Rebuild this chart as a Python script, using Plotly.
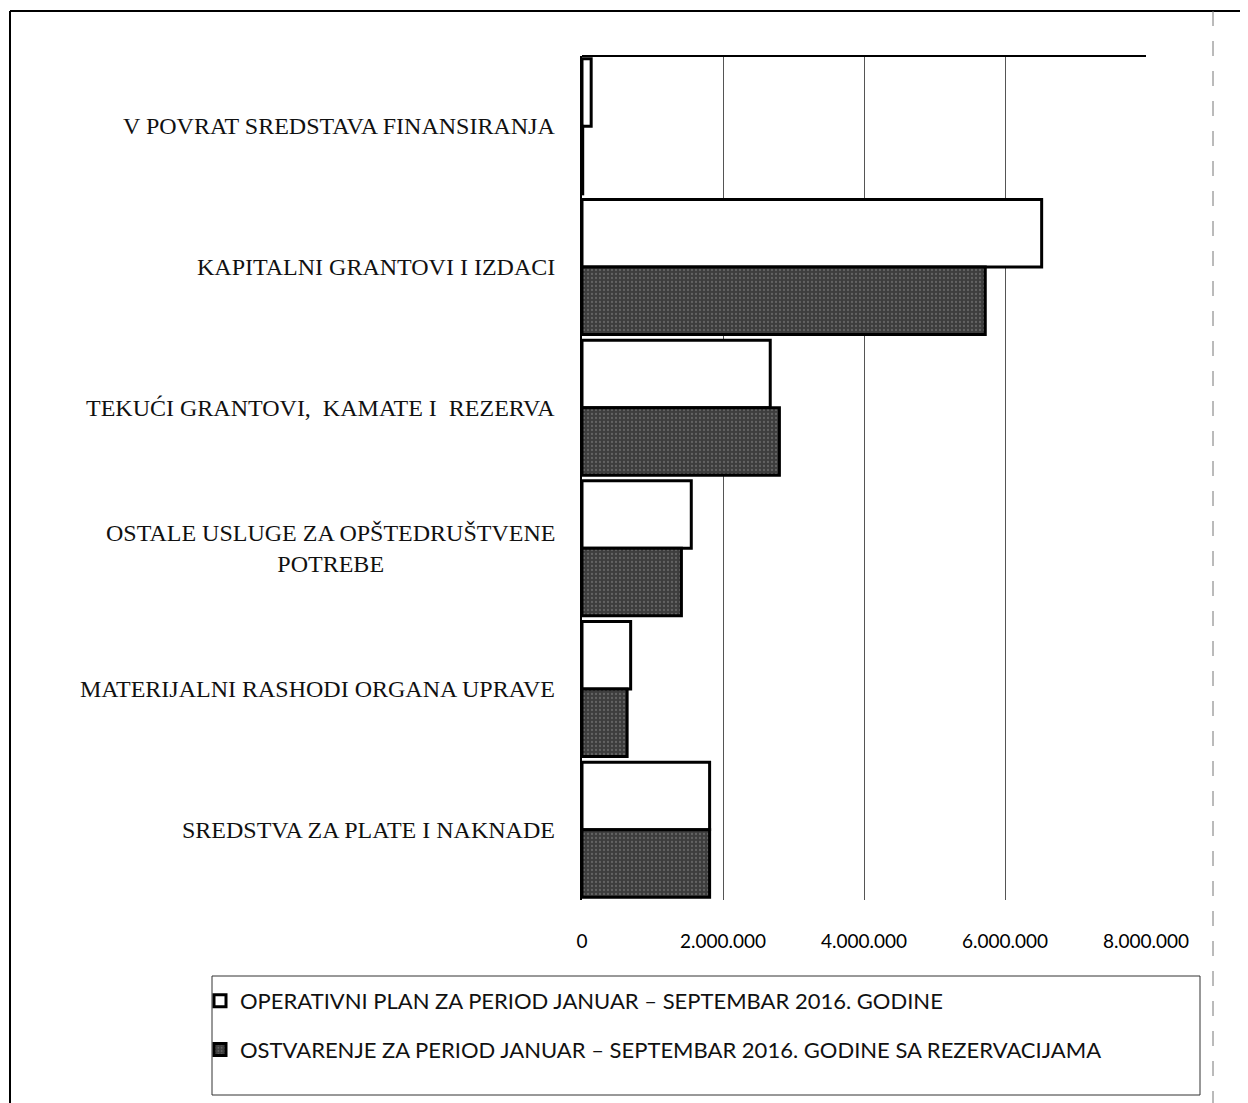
import plotly.graph_objects as go

categories = [
    "V POVRAT SREDSTAVA FINANSIRANJA",
    "KAPITALNI GRANTOVI I IZDACI",
    "TEKUĆI GRANTOVI,  KAMATE I  REZERVA",
    "OSTALE USLUGE ZA OPŠTEDRUŠTVENE<br>POTREBE",
    "MATERIJALNI RASHODI ORGANA UPRAVE",
    "SREDSTVA ZA PLATE I NAKNADE",
]
plan_values = [130000, 6520000, 2670000, 1550000, 690000, 1810000]
ostv_values = [10000, 5720000, 2800000, 1410000, 640000, 1810000]
series_names = [
    "OPERATIVNI PLAN ZA PERIOD JANUAR – SEPTEMBAR 2016. GODINE",
    "OSTVARENJE ZA PERIOD JANUAR – SEPTEMBAR 2016. GODINE SA REZERVACIJAMA",
]
tick_values = [0, 2000000, 4000000, 6000000, 8000000]
tick_labels = ["0", "2.000.000", "4.000.000", "6.000.000", "8.000.000"]

# page body has an 8px margin, so work in reference coords minus 8
OFF = 8
W, H = 1248 - OFF, 1103 - OFF
PL, PR, PT, PB = 582 - OFF, 1146 - OFF, 56 - OFF, 900 - OFF


def px(x):
    return (x - OFF - PL) / (PR - PL)


def py(y):
    return (PB - (y - OFF)) / (PB - PT)


fig = go.Figure()
fig.add_trace(go.Bar(
    y=categories, x=plan_values, orientation="h", name=series_names[0],
    marker=dict(color="white", line=dict(color="black", width=3)),
    legendgroup="a",
))
fig.add_trace(go.Bar(
    y=categories, x=ostv_values, orientation="h", name=series_names[1],
    marker=dict(color="#3d3d3d", line=dict(color="black", width=3),
                pattern=dict(shape=".", fgcolor="#8a8a8a", size=4, solidity=0.25)),
    legendgroup="b",
))

for c in categories:
    fig.add_annotation(
        x=px(557), xref="paper", xanchor="right", y=c, yref="y",
        text=c, showarrow=False, align="center",
        font=dict(family="Liberation Serif", size=24, color="#111"),
    )

shapes = [
    dict(type="line", xref="paper", yref="paper", x0=0, x1=1, y0=1, y1=1,
         line=dict(color="black", width=2)),
    dict(type="line", xref="paper", yref="paper", x0=px(10), x1=px(1248), y0=py(11), y1=py(11),
         line=dict(color="black", width=2)),
    dict(type="line", xref="paper", yref="paper", x0=px(10), x1=px(10), y0=py(11), y1=py(1103),
         line=dict(color="black", width=2)),
    dict(type="line", xref="paper", yref="paper", x0=px(1213), x1=px(1213), y0=py(11), y1=py(1103),
         line=dict(color="#777", width=1, dash="longdash")),
    dict(type="rect", xref="paper", yref="paper", x0=px(212), x1=px(1200), y0=py(976), y1=py(1095),
         line=dict(color="#333", width=1)),
]

fig.update_layout(
    width=W, height=H,
    margin=dict(l=PL, r=W - PR, t=PT, b=H - PB),
    paper_bgcolor="white", plot_bgcolor="white",
    barmode="group", bargap=0.04, bargroupgap=0.0,
    showlegend=True,
    legend=dict(
        x=px(200), xanchor="left", y=py(980), yanchor="top",
        traceorder="grouped", tracegroupgap=17,
        font=dict(family="Lato", size=22, color="#111"),
        itemwidth=30, bgcolor="rgba(0,0,0,0)",
    ),
    xaxis=dict(
        range=[0, 8000000], tickvals=tick_values, ticktext=tick_labels,
        showgrid=True, gridcolor="#555", gridwidth=1, zeroline=False,
        showline=False, ticks="", ticklabelstandoff=28,
        tickfont=dict(family="Lato", size=19, color="#000"),
    ),
    yaxis=dict(
        autorange="reversed", showticklabels=False, showgrid=False,
        showline=True, linecolor="black", linewidth=2, ticks="",
    ),
    shapes=shapes,
)

fig.write_html("out.html")
